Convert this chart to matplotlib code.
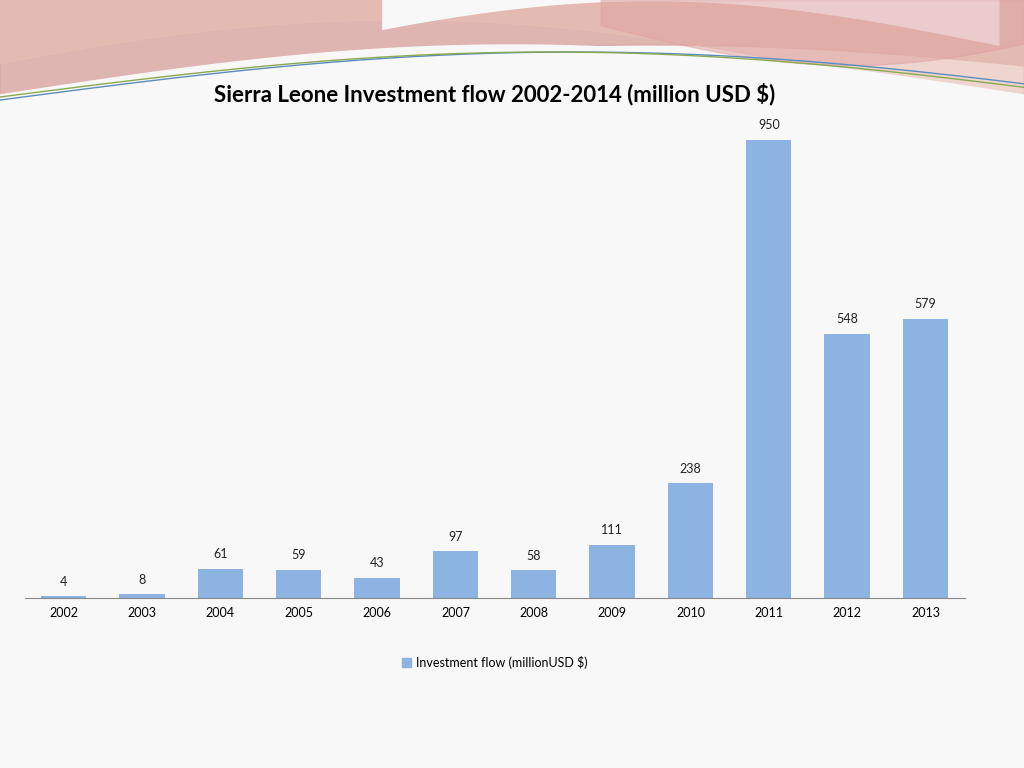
import matplotlib.pyplot as plt
import numpy as np
from matplotlib.patches import Patch

years = ['2002', '2003', '2004', '2005', '2006', '2007', '2008', '2009', '2010', '2011', '2012', '2013']
flows = [4, 8, 61, 59, 43, 97, 58, 111, 238, 950, 548, 579]

plt.rcParams['font.family'] = ['Lato', 'DejaVu Sans']

fig = plt.figure(figsize=(10.24, 7.68), dpi=100)
fig.patch.set_facecolor('#f8f8f8')

# decorative swooshes at the top (background)
bg = fig.add_axes([0, 0, 1, 1], zorder=0)
bg.set_xlim(0, 1024)
bg.set_ylim(768, 0)
bg.axis('off')
x = np.linspace(0, 1024, 400)
top_red = 60 - 35 * np.sin(np.pi * x / 1024) + 20 * (x / 1024) ** 3
bg.fill_between(x, 0, 100 - 55 * np.sin(np.pi * x / 1300), color='#d9a5a0', alpha=0.8)
bg.fill_between(x, 0, 95 - 75 * np.sin(np.pi * (x + 150) / 1100), color='#e8c0b5', alpha=0.6)
white = 60 + 40 * np.cos(np.pi * x / 1024) * 0 + 10
bg.fill_between(x, 100 - 50 * np.sin(np.pi * (x) / 1024) - 5, 140, color='#f8f8f8')
bg.fill_between(x, 0, 45 - 45 * np.sin(np.pi * (x - 300) / 700).clip(0), color='#f8f8f8', where=(x > 380) & (x < 1000))
bg.fill_between(x[x > 600], 0, (25 + 40 * np.sin(np.pi * (x[x > 600] - 600) / 500))[:], color='#e0a0a0', alpha=0.5)
bg.plot(x, 100 - 48 * np.sin(np.pi * x / 1150), color='#5b8cc0', lw=1)
bg.plot(x, 97 - 45 * np.sin(np.pi * x / 1100), color='#8aaa50', lw=1)

ax = fig.add_axes([0.024, 0.221, 0.918, 0.628], zorder=1)
ax.set_facecolor('none')
pos = np.arange(len(years))
bars = ax.bar(pos, flows, width=0.58, color='#8db3e2')
for p, v in zip(pos, flows):
    ax.text(p, v + 18, str(v), ha='center', va='bottom', fontsize=9, color='#222222')
ax.set_xlim(-0.5, len(years) - 0.5)
ax.set_ylim(0, 1000)
ax.set_xticks(pos)
ax.set_xticklabels(years, fontsize=9)
ax.tick_params(axis='x', length=0, pad=6)
ax.set_yticks([])
for s in ['top', 'right', 'left']:
    ax.spines[s].set_visible(False)
ax.spines['bottom'].set_color('#888888')

fig.text(0.483, 0.878, 'Sierra Leone Investment flow 2002-2014 (million USD $)',
         ha='center', va='center', fontsize=16, fontweight='bold')
fig.legend(handles=[Patch(color='#8db3e2', label='Investment flow (millionUSD $)')],
           loc='center', bbox_to_anchor=(0.483, 0.138), frameon=False,
           fontsize=9, handlelength=0.7, handleheight=0.7, handletextpad=0.4)

fig.savefig('out.png', dpi=100, facecolor=fig.get_facecolor())
